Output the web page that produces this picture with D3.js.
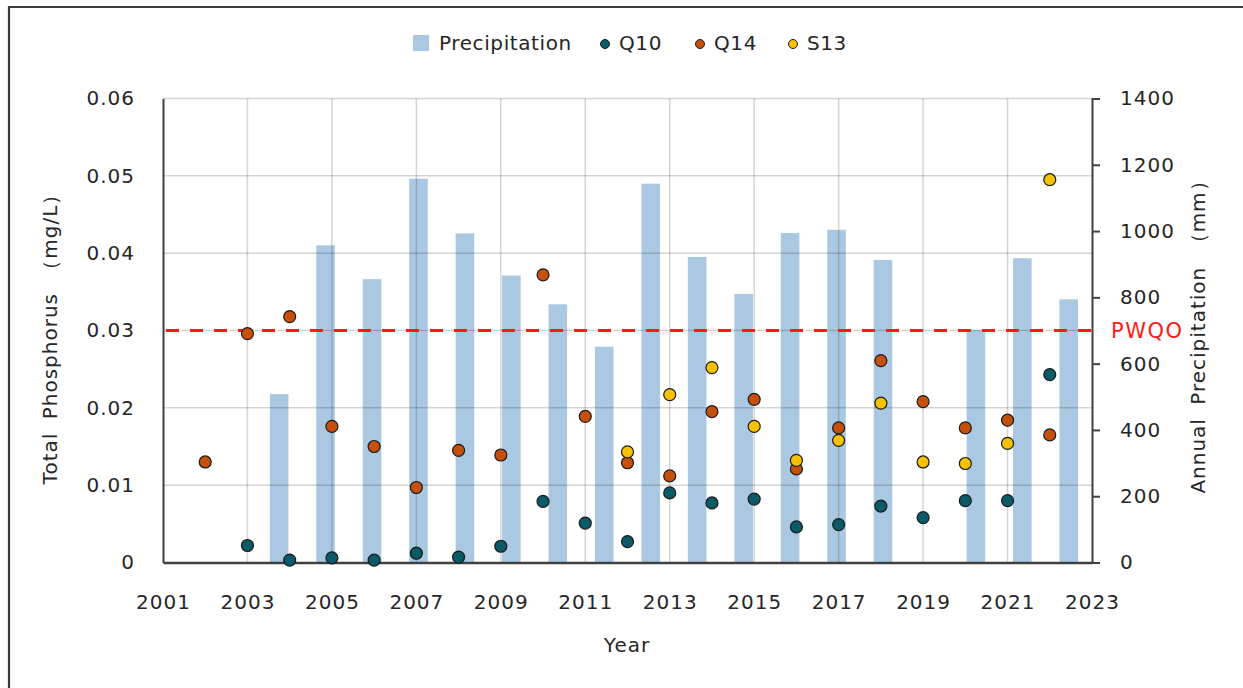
<!DOCTYPE html>
<html><head><meta charset="utf-8">
<script src="https://cdn.jsdelivr.net/npm/d3@7"></script>
<style>
html,body{margin:0;padding:0;background:#fff;}
svg{display:block;font-family:"DejaVu Sans",Verdana,sans-serif;}
</style></head>
<body><svg id="c" width="1243" height="688"></svg>
<script>
// ---- data ----
const years = [2002,2003,2004,2005,2006,2007,2008,2009,2010,2011,2012,2013,2014,2015,2016,2017,2018,2019,2020,2021,2022];
const q10 = [null,0.0022,0.0003,0.0006,0.0003,0.0012,0.0007,0.0021,0.0079,0.0051,0.0027,0.0090,0.0077,0.0082,0.0046,0.0049,0.0073,0.0058,0.0080,0.0080,0.0243];
const q14 = [0.0130,0.0296,0.0318,0.0176,0.0150,0.0097,0.0145,0.0139,0.0372,0.0189,0.0129,0.0112,0.0195,0.0211,0.0121,0.0174,0.0261,0.0208,0.0174,0.0184,0.0165];
const s13 = [null,null,null,null,null,null,null,null,null,null,0.0143,0.0217,0.0252,0.0176,0.0132,0.0158,0.0206,0.0130,0.0128,0.0154,0.0495];
const precipCategories = [2002,2003,2004,2005,2006,2007,2008,2009,2010,2011,2012,2013,2014,2015,2016,2017,2018,2019,2020,2021];
const precipitation = [null,null,508,957,855,1158,993,866,779,651,1143,922,810,994,1004,913,null,701,918,794];
const xTicks = [2001,2003,2005,2007,2009,2011,2013,2015,2017,2019,2021,2023];
const leftTicks = [0,0.01,0.02,0.03,0.04,0.05,0.06];
const rightTicks = [0,200,400,600,800,1000,1200,1400];
const pwqo = 0.03;

const svg = d3.select("#c");
const L = 163, R = 1092, T = 98.5, B = 562.5;
const x = d3.scaleLinear().domain([2001,2023]).range([L,R]);
const xb = d3.scaleBand().domain(precipCategories).range([L,R]).paddingInner(0.6).paddingOuter(0.3);
const yL = d3.scaleLinear().domain([0,0.06]).range([B,T]);
const yR = d3.scaleLinear().domain([0,1400]).range([B,T]);

// outer frame (top + left)
svg.append("path").attr("d","M9,688 V7 H1243").attr("fill","none").attr("stroke","#3c3c3c").attr("stroke-width",2.2);

// bars
svg.append("g").selectAll("rect").data(precipCategories.map((c,i)=>({c,v:precipitation[i]})).filter(d=>d.v!=null))
  .join("rect").attr("x",d=>xb(d.c)).attr("width",xb.bandwidth())
  .attr("y",d=>yR(d.v)).attr("height",d=>B-yR(d.v)).attr("fill","#abc8e2");

// gridlines
const grid = svg.append("g").attr("stroke","rgba(0,0,0,0.17)").attr("stroke-width",1.5);
grid.selectAll(".h").data(leftTicks.filter(d=>d>0)).join("line")
  .attr("x1",L).attr("x2",R).attr("y1",d=>yL(d)).attr("y2",d=>yL(d));
grid.selectAll(".v").data(xTicks.filter(d=>d>2001&&d<2023)).join("line")
  .attr("x1",d=>x(d)).attr("x2",d=>x(d)).attr("y1",T).attr("y2",B);

// axes
const axisCol = "#404040";
const gl = svg.append("g").attr("transform",`translate(${L},0)`).call(d3.axisLeft(yL).tickValues(leftTicks).tickSize(0).tickPadding(28).tickFormat(d=>d===0?"0":d3.format(".2f")(d)));
const gr = svg.append("g").attr("transform",`translate(${R},0)`).call(d3.axisRight(yR).tickValues(rightTicks).tickSize(8).tickPadding(20).tickFormat(d3.format("d")));
const gb = svg.append("g").attr("transform",`translate(0,${B})`).call(d3.axisBottom(x).tickValues(xTicks).tickSize(0).tickPadding(32).tickFormat(d3.format("d")));
[gl,gr,gb].forEach(g=>{
  g.select(".domain").attr("stroke",axisCol).attr("stroke-width",2);
  g.selectAll(".tick line").attr("stroke",axisCol).attr("stroke-width",2);
  g.selectAll("text").attr("fill","#262626").style("font-size","20px").style("letter-spacing","1px").style("font-family","DejaVu Sans, sans-serif");
});
gb.select(".domain").attr("stroke-width",2.5);

// PWQO line
svg.append("line").attr("x1",L+3).attr("x2",R).attr("y1",yL(pwqo)).attr("y2",yL(pwqo))
  .attr("stroke","#ff1a1a").attr("stroke-width",2.8).attr("stroke-dasharray","13,11");
svg.append("text").attr("x",R+19).attr("y",yL(pwqo)).attr("dy","0.35em").attr("fill","#ff1a1a")
  .style("font-size","21px").style("letter-spacing","1.5px").text("PWQO");

// points
const series = [
  {name:"Q10", vals:q10, color:"#0b5a68"},
  {name:"Q14", vals:q14, color:"#c4500c"},
  {name:"S13", vals:s13, color:"#f6c100"}
];
series.forEach(s=>{
  svg.append("g").selectAll("circle").data(years.map((yr,i)=>({yr,v:s.vals[i]})).filter(d=>d.v!=null))
    .join("circle").attr("cx",d=>x(d.yr)).attr("cy",d=>yL(d.v)).attr("r",6)
    .attr("fill",s.color).attr("stroke","#1a1a1a").attr("stroke-width",1.2);
});

// axis titles
svg.append("text").attr("transform","translate(57,334) rotate(-90)").attr("text-anchor","middle")
  .attr("fill","#262626").style("font-size","20px").style("letter-spacing","1px").style("word-spacing","6px")
  .text("Total Phosphorus （mg/L）");
svg.append("text").attr("transform","translate(1205,332) rotate(-90)").attr("text-anchor","middle")
  .attr("fill","#262626").style("font-size","20px").style("letter-spacing","1px").style("word-spacing","6px")
  .text("Annual Precipitation （mm）");
svg.append("text").attr("x",627).attr("y",645).attr("dy","0.35em").attr("text-anchor","middle")
  .attr("fill","#262626").style("font-size","20px").style("letter-spacing","1px").text("Year");

// legend
const lg = svg.append("g").style("font-size","20px").attr("fill","#262626");
lg.append("rect").attr("x",413).attr("y",35).attr("width",16).attr("height",16).attr("fill","#abc8e2");
lg.append("text").attr("x",439).attr("y",43).attr("dy","0.35em").style("letter-spacing","0.6px").text("Precipitation");
const legItems = [{n:"Q10",c:"#0b5a68",x:605},{n:"Q14",c:"#c4500c",x:700},{n:"S13",c:"#f6c100",x:793}];
legItems.forEach(d=>{
  lg.append("circle").attr("cx",d.x).attr("cy",44).attr("r",4.5).attr("fill",d.c).attr("stroke","#1a1a1a").attr("stroke-width",1);
  lg.append("text").attr("x",d.x+14).attr("y",43).attr("dy","0.35em").style("letter-spacing","0.6px").text(d.n);
});
</script></body></html>
